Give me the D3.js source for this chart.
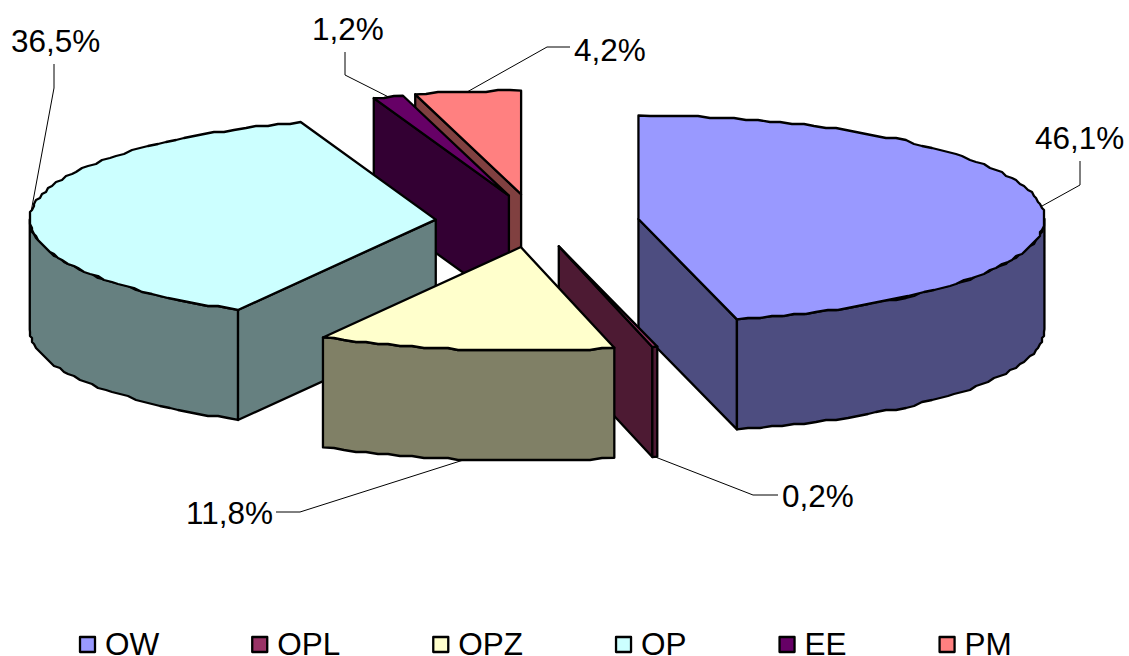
<!DOCTYPE html>
<html>
<head>
<meta charset="utf-8">
<script src="https://cdn.jsdelivr.net/npm/d3@7/dist/d3.min.js"></script>
<style>
html,body{margin:0;padding:0;background:#fff;overflow:hidden}
text{font-family:"Liberation Sans",Arial,sans-serif;fill:#000}
</style>
</head>
<body>
<svg id="c" width="1129" height="656"></svg>
<script>
const categories = ["OW","OPL","OPZ","OP","EE","PM"];
const shares = [46.1,0.2,11.8,36.5,1.2,4.2];
const colours = ["#9999FF","#993366","#FFFFCC","#CCFFFF","#660066","#FF8080"];

// layout
const W=1129,H=656, cx=537.4, cy=221, rx=406, ry=103.5, depth=110, explodeX=101, explodeY=26;
const fontSize=31.5, snap=2;
const drawOrder=[0,5,4,3,1,2];
// small per-slice shifts of the exploded slices
const nudge={OW:[0.8,1.2],OPL:[-2.5,0],OPZ:[-2.7,0.3],OP:[-1,0.8],EE:[1.5,-0.5],PM:[-3,-1]};
// label placement per category: elbow and text anchor
const labelPlace={
  OW:{knee:[1080,185],end:[1080,161],text:[1035,149]},
  OPL:{knee:[753,495],end:[778,495],text:[782,507]},
  OPZ:{knee:[300,512],end:[276,512],text:[186,524]},
  OP:{knee:[54,88],end:[54,64],text:[11,52]},
  EE:{knee:[345,75],end:[345,52],text:[312,40]},
  PM:{knee:[547,47],end:[570,47],text:[574,61]}
};

const svg=d3.select("#c");
const pie=d3.pie().sort(null).value(d=>d.v).startAngle(0).endAngle(2*Math.PI);
const arcs=pie(categories.map((c,i)=>({c,v:shares[i],col:colours[i]})));
const line=d3.line();

arcs.forEach(a=>{
  const mid=(a.startAngle+a.endAngle)/2, n=nudge[a.data.c];
  a.mid=mid;
  a.x=cx+explodeX*Math.sin(mid)+n[0];
  a.y=cy-explodeY*Math.cos(mid)+n[1];
});
const rim=(a,t,dy=0)=>[a.x+rx*Math.sin(t),a.y-ry*Math.cos(t)+dy];
function rimPoints(a,t0,t1,dy=0){
  const n=Math.max(1,Math.ceil(Math.abs(t1-t0)/0.03)),pts=[];
  for(let i=0;i<=n;i++){
    const t=t0+(t1-t0)*i/n;
    let p=rim(a,t,dy);
    if(i>0&&i<n) p=[Math.round(p[0]/snap)*snap,Math.round((p[1]-dy)/snap)*snap+dy];
    const q=pts[pts.length-1];
    if(!q||q[0]!==p[0]||q[1]!==p[1]) pts.push(p);
  }
  return pts;
}
const dark=c=>{const r=d3.rgb(c);return d3.rgb(r.r/2,r.g/2,r.b/2).formatHex();};
const style=(s,f)=>s.attr("fill",f).attr("stroke","#000").attr("stroke-width",2.3).attr("stroke-linejoin","round");

drawOrder.forEach(i=>{
  const a=arcs[i], g=svg.append("g").attr("class","slice-"+a.data.c);
  const side=dark(a.data.col), s=a.startAngle, e=a.endAngle, PI=Math.PI;
  // radial cut faces
  if(Math.sin(s)<0){
    const p=rim(a,s);
    style(g.append("path").attr("d",line([[a.x,a.y],p,[p[0],p[1]+depth],[a.x,a.y+depth]])+"Z"),side);
  }
  if(Math.sin(e)>0){
    const p=rim(a,e);
    style(g.append("path").attr("d",line([[a.x,a.y],p,[p[0],p[1]+depth],[a.x,a.y+depth]])+"Z"),side);
  }
  // outer wall
  const w0=Math.max(s,PI/2), w1=Math.min(e,3*PI/2);
  if(w1>w0){
    const top=rimPoints(a,w0,w1), bot=rimPoints(a,w1,w0,depth);
    style(g.append("path").attr("d",line(top.concat(bot))+"Z"),side);
  }
  // top
  style(g.append("path").attr("d",line([[a.x,a.y]].concat(rimPoints(a,s,e)))+"Z"),a.data.col);
});

// leader lines and labels
arcs.forEach(a=>{
  const lp=labelPlace[a.data.c];
  const front=Math.cos(a.mid)<-0.5;
  const anchor=rim(a,a.mid,front?depth:0);
  svg.append("path").attr("d",line([anchor,lp.knee,lp.end])).attr("fill","none").attr("stroke","#000").attr("stroke-width",1);
  svg.append("text").attr("x",lp.text[0]).attr("y",lp.text[1]).attr("font-size",fontSize)
    .text(a.data.v.toFixed(1).replace(".",",")+"%");
});

// legend
let lx=80;
const legendY=637, box=15, legendGap=93;
categories.forEach((c,i)=>{
  style(svg.append("rect").attr("x",lx).attr("y",legendY).attr("width",box).attr("height",box),colours[i]);
  const t=svg.append("text").attr("x",lx+25).attr("y",655).attr("font-size",fontSize).text(c);
  lx+=25+t.node().getComputedTextLength()+legendGap;
});
</script>
</body>
</html>
